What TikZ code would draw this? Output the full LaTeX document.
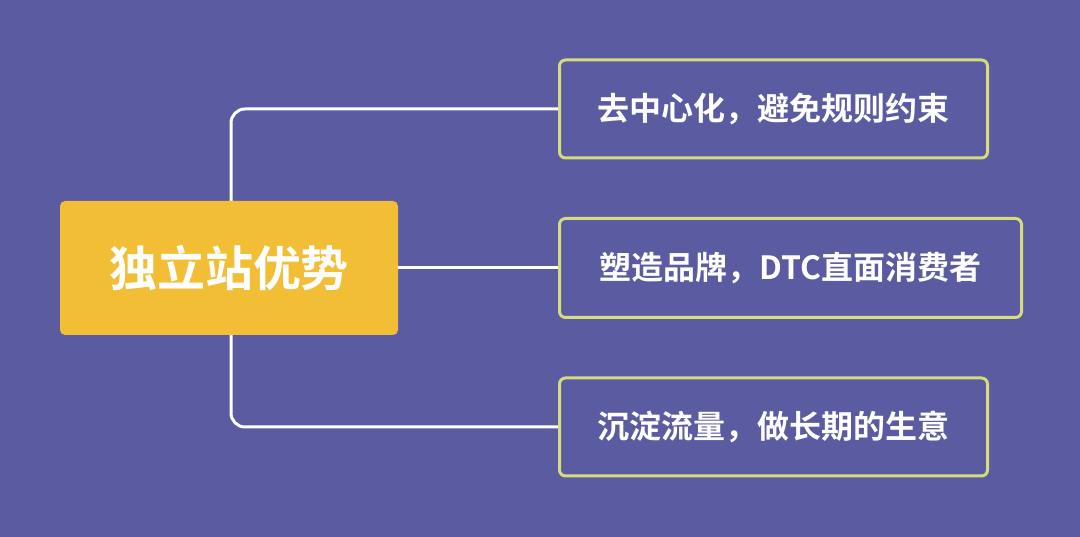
\documentclass[tikz,border=0pt]{standalone}
\usepackage{fontspec}
\setmainfont{Noto Sans CJK SC}
\newfontfamily\cjkb{Noto Sans CJK SC Bold}
\definecolor{bg}{HTML}{5A5BA0}
\definecolor{gold}{HTML}{F2BE36}
\definecolor{lime}{HTML}{D6DB7E}
\begin{document}
\begin{tikzpicture}[x=1pt,y=1pt,
  leaf/.style={draw=lime,line width=3pt,rounded corners=6pt,anchor=west,inner sep=0pt},
  lt/.style={text=white,font=\cjkb\fontsize{32}{36}\selectfont},
  conn/.style={draw=white,line width=3pt,rounded corners=14pt}]
\fill[bg] (0,0) rectangle (1080,537);
\useasboundingbox (0,0) rectangle (1080,537);
\node[fill=gold,rounded corners=5pt,minimum width=338pt,minimum height=134pt,text=white,font=\cjkb\fontsize{48}{52}\selectfont] (root) at (229,269) {独立站优势};
\node[leaf,minimum width=428pt,minimum height=98pt] (a) at (558,428) {};
\node[lt] at (a.center) {去中心化，避免规则约束};
\node[leaf,minimum width=462pt,minimum height=99pt] (b) at (558,269) {};
\node[lt] at (b.center) {塑造品牌，DTC直面消费者};
\node[leaf,minimum width=428pt,minimum height=98pt] (c) at (558,110) {};
\node[lt] at (c.center) {沉淀流量，做长期的生意};
\draw[conn] (231,336) |- (a.west);
\draw[conn] (231,202) |- (c.west);
\draw[conn] (root.east) -- (b.west);
\end{tikzpicture}
\end{document}
